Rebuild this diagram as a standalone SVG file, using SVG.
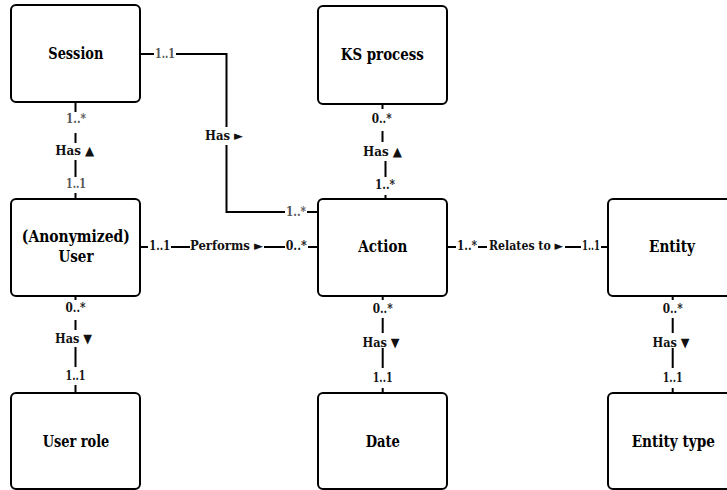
<svg xmlns="http://www.w3.org/2000/svg" width="727" height="490" viewBox="0 0 727 490">
  <style>
    .box { fill: #fff; stroke: #000; stroke-width: 2; }
    .name { font-family: "DejaVu Serif Condensed", "DejaVu Serif", serif; font-weight: bold; font-size: 16.5px; fill: #000; text-anchor: middle; dominant-baseline: central; }
    .wire { fill: none; stroke: #000; stroke-width: 2; }
    .bg { fill: #fff; }
    .rel { font-family: "DejaVu Serif Condensed", "DejaVu Serif", serif; font-weight: bold; font-size: 13px; fill: #111; text-anchor: middle; dominant-baseline: central; }
    .card { font-family: "DejaVu Serif Condensed", "DejaVu Serif", serif; font-weight: bold; font-size: 12.5px; fill: #111; text-anchor: middle; dominant-baseline: central; }
    .grey { fill: #555; }
  </style>
  <rect width="727" height="490" fill="#fff"/>

  <!-- connectors -->
  <g id="connectors">
    <!-- Session - User -->
    <line class="wire" x1="75.5" y1="102" x2="75.5" y2="199"/>
    <rect class="bg" x="60" y="112" width="31" height="21"/>
    <rect class="bg" x="50" y="143" width="52" height="17"/>
    <rect class="bg" x="60" y="177" width="31" height="16"/>
    <text class="card grey" x="76" y="118" textLength="20" lengthAdjust="spacingAndGlyphs">1..*</text>
    <text class="rel" x="74.7" y="150" textLength="39" lengthAdjust="spacingAndGlyphs">Has ▲</text>
    <text class="card grey" x="76" y="183" textLength="20" lengthAdjust="spacingAndGlyphs">1..1</text>

    <!-- Session - Action -->
    <polyline class="wire" points="140,54 226.5,54 226.5,212 317,212"/>
    <rect class="bg" x="154" y="46" width="22" height="16"/>
    <rect class="bg" x="203" y="127" width="44" height="18"/>
    <rect class="bg" x="285" y="204" width="22" height="16"/>
    <text class="card grey" x="165" y="53" textLength="20" lengthAdjust="spacingAndGlyphs">1..1</text>
    <text class="rel" x="224" y="135" textLength="38" lengthAdjust="spacingAndGlyphs">Has ►</text>
    <text class="card grey" x="296" y="211" textLength="20" lengthAdjust="spacingAndGlyphs">1..*</text>

    <!-- KS process - Action -->
    <polyline class="wire" points="382.5,104 382.5,152 385.5,152 385.5,199"/>
    <rect class="bg" x="367" y="109" width="31" height="22"/>
    <rect class="bg" x="357" y="142" width="52" height="19"/>
    <rect class="bg" x="370" y="177" width="31" height="18"/>
    <text class="card" x="381.7" y="118.5" textLength="20" lengthAdjust="spacingAndGlyphs">0..*</text>
    <text class="rel" x="382.5" y="151" textLength="39" lengthAdjust="spacingAndGlyphs">Has ▲</text>
    <text class="card" x="385" y="184.5" textLength="20" lengthAdjust="spacingAndGlyphs">1..*</text>

    <!-- User - Action -->
    <line class="wire" x1="140" y1="247" x2="317" y2="247"/>
    <rect class="bg" x="148" y="239" width="23" height="16"/>
    <rect class="bg" x="190" y="239" width="74" height="16"/>
    <rect class="bg" x="285" y="239" width="23" height="16"/>
    <text class="card" x="159.7" y="245.5" textLength="20.7" lengthAdjust="spacingAndGlyphs">1..1</text>
    <text class="rel" x="226.5" y="245.5" textLength="73" lengthAdjust="spacingAndGlyphs">Performs ►</text>
    <text class="card" x="296.2" y="245.5" textLength="21" lengthAdjust="spacingAndGlyphs">0..*</text>

    <!-- Action - Entity -->
    <line class="wire" x1="447" y1="247" x2="608" y2="247"/>
    <rect class="bg" x="456" y="239" width="22" height="16"/>
    <rect class="bg" x="487" y="239" width="78" height="16"/>
    <rect class="bg" x="581" y="239" width="20" height="16"/>
    <text class="card" x="467" y="245.5" textLength="20" lengthAdjust="spacingAndGlyphs">1..*</text>
    <text class="rel" x="526" y="245.5" textLength="74" lengthAdjust="spacingAndGlyphs">Relates to ►</text>
    <text class="card" x="591" y="245.5" textLength="18" lengthAdjust="spacingAndGlyphs">1..1</text>

    <!-- User - User role -->
    <line class="wire" x1="75.5" y1="296" x2="75.5" y2="393"/>
    <rect class="bg" x="60" y="300" width="31" height="20"/>
    <rect class="bg" x="50" y="330" width="52" height="17"/>
    <rect class="bg" x="60" y="367" width="31" height="18"/>
    <text class="card" x="75.5" y="307" textLength="20" lengthAdjust="spacingAndGlyphs">0..*</text>
    <text class="rel" x="73.5" y="338" textLength="37" lengthAdjust="spacingAndGlyphs">Has ▼</text>
    <text class="card" x="75.5" y="375" textLength="20" lengthAdjust="spacingAndGlyphs">1..1</text>

    <!-- Action - Date -->
    <line class="wire" x1="382.7" y1="296" x2="382.7" y2="393"/>
    <rect class="bg" x="367" y="300" width="31" height="18"/>
    <rect class="bg" x="357" y="333" width="52" height="15"/>
    <rect class="bg" x="367" y="368" width="31" height="20"/>
    <text class="card" x="382.7" y="308" textLength="20" lengthAdjust="spacingAndGlyphs">0..*</text>
    <text class="rel" x="381" y="342" textLength="37" lengthAdjust="spacingAndGlyphs">Has ▼</text>
    <text class="card" x="382.7" y="377" textLength="20" lengthAdjust="spacingAndGlyphs">1..1</text>

    <!-- Entity - Entity type -->
    <line class="wire" x1="672.7" y1="296" x2="672.7" y2="393"/>
    <rect class="bg" x="657" y="300" width="31" height="18"/>
    <rect class="bg" x="647" y="333" width="52" height="15"/>
    <rect class="bg" x="657" y="368" width="31" height="20"/>
    <text class="card" x="672.7" y="308" textLength="20" lengthAdjust="spacingAndGlyphs">0..*</text>
    <text class="rel" x="671" y="342" textLength="37" lengthAdjust="spacingAndGlyphs">Has ▼</text>
    <text class="card" x="672.7" y="377" textLength="20" lengthAdjust="spacingAndGlyphs">1..1</text>
  </g>

  <!-- nodes -->
  <g id="session">
    <rect class="box" x="11" y="5" width="129" height="97" rx="5"/>
    <text class="name" x="75.8" y="53" textLength="55" lengthAdjust="spacingAndGlyphs">Session</text>
  </g>
  <g id="ks-process">
    <rect class="box" x="318" y="6" width="129" height="98" rx="5"/>
    <text class="name" x="382.3" y="54" textLength="83" lengthAdjust="spacingAndGlyphs">KS process</text>
  </g>
  <g id="user">
    <rect class="box" x="11" y="199" width="129" height="97" rx="5"/>
    <text class="name" x="75.8" y="236" textLength="108" lengthAdjust="spacingAndGlyphs">(Anonymized)</text>
    <text class="name" x="76" y="256.5" textLength="35" lengthAdjust="spacingAndGlyphs">User</text>
  </g>
  <g id="action">
    <rect class="box" x="318" y="199" width="129" height="97" rx="5"/>
    <text class="name" x="382.8" y="246.7" textLength="49" lengthAdjust="spacingAndGlyphs">Action</text>
  </g>
  <g id="entity">
    <rect class="box" x="608" y="199" width="130" height="97" rx="5"/>
    <text class="name" x="672" y="246.7" textLength="46" lengthAdjust="spacingAndGlyphs">Entity</text>
  </g>
  <g id="user-role">
    <rect class="box" x="11" y="393" width="129" height="96" rx="5"/>
    <text class="name" x="76" y="441" textLength="66.6" lengthAdjust="spacingAndGlyphs">User role</text>
  </g>
  <g id="date">
    <rect class="box" x="318" y="393" width="129" height="96" rx="5"/>
    <text class="name" x="382.8" y="441" textLength="34.3" lengthAdjust="spacingAndGlyphs">Date</text>
  </g>
  <g id="entity-type">
    <rect class="box" x="608" y="393" width="130" height="96" rx="5"/>
    <text class="name" x="673.3" y="441" textLength="83.3" lengthAdjust="spacingAndGlyphs">Entity type</text>
  </g>
</svg>
